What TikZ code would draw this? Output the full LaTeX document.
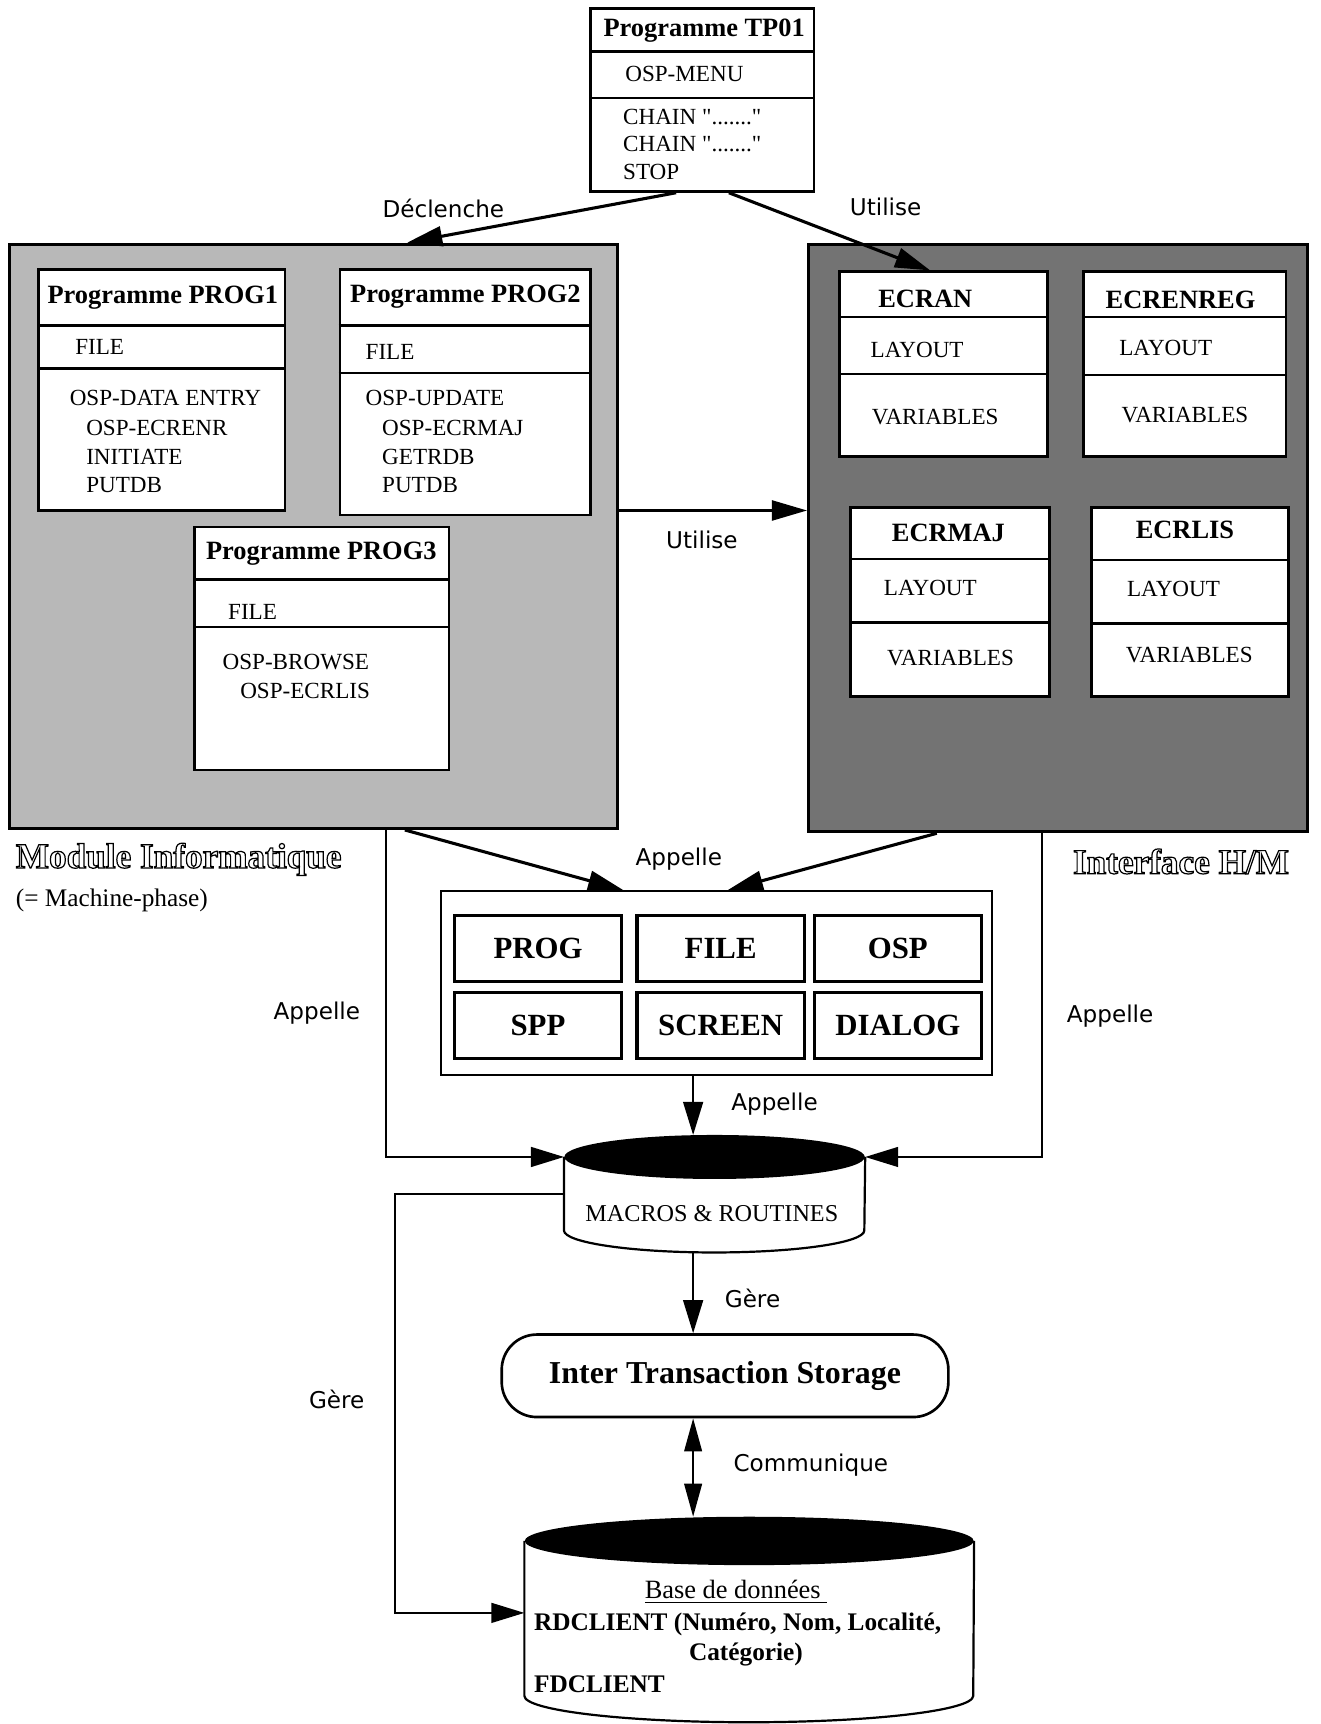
\documentclass[tikz,border=0pt]{standalone}
\usepackage{fontspec}
\usepackage{tikz}
\usetikzlibrary{arrows.meta,calc,fit}
\setmainfont{Liberation Serif}
\newfontfamily\lblfont{DejaVu Sans}
\newcommand{\Chain}{CHAIN \textquotedbl.......\textquotedbl}
\newcommand{\Outline}[1]{\special{pdf:literal direct 1 Tr 0.55 w}#1\special{pdf:literal direct 0 Tr}}

\begin{document}
\begin{tikzpicture}[x=0.5pt, y=-0.5pt,
  zone/.style={draw, line width=1.4pt, inner sep=0pt},
  box/.style={draw, fill=white, line width=1.2pt, inner sep=0pt},
  ttl/.style={font=\fontsize{12}{14}\selectfont\bfseries, inner sep=0pt},
  itm/.style={font=\fontsize{10.5}{13}\selectfont, inner sep=0pt, anchor=west},
  lbl/.style={font=\lblfont\fontsize{10.5}{12}\selectfont, inner sep=0pt},
  cell/.style={draw, line width=1.4pt, minimum width=76pt, minimum height=30pt, font=\fontsize{14}{16}\selectfont\bfseries},
  arr/.style={line width=1.4pt, -{Triangle[length=16pt,width=9pt]}},
  arrthin/.style={line width=0.9pt, -{Triangle[length=15pt,width=9pt]}},
  dbl/.style={line width=1pt, {Triangle[length=15pt,width=8pt]}-{Triangle[length=15pt,width=8pt]}}]

\useasboundingbox (0,0) rectangle (1200,1567);

\node[zone, fill=black!28, fit={(9,222) (561,753)}] (modinf) {};
\node[zone, fill=black!55, fit={(735,222) (1188,756)}] (ihm) {};

\foreach \n/\xa/\ya/\xb/\yb/\la/\lb in {tp01/537/8/740/174/47/89, prog1/35/245/259/464/296/335,
  prog2/309/245/537/468/296/339, prog3/177/479/408/700/527/570, ecran/763/247/952/415/288/340,
  ecrenreg/985/247/1169/415/288/341, ecrmaj/773/461/954/633/508/566, ecrlis/992/461/1171/633/509/567}
{
  \node[box, fit={(\xa,\ya) (\xb,\yb)}] (\n) {};
  \draw[line width=1.2pt] (\n.west |- 0,\la) -- (\n.east |- 0,\la);
  \draw[line width=1.2pt] (\n.west |- 0,\lb) -- (\n.east |- 0,\lb);
}

\foreach \n/\x/\y/\t in {tp01/640/28/Programme TP01, prog1/148/271/Programme PROG1,
  prog2/423/270/Programme PROG2, prog3/292/503/Programme PROG3, ecran/841/272/ECRAN,
  ecrenreg/1073/273/ECRENREG, ecrmaj/862/484/ECRMAJ, ecrlis/1077/482/ECRLIS}
  \node[ttl] (\n-t) at (\x,\y) {\t};

\foreach \x/\y/\t [count=\i] in {568/67/OSP-MENU, 566/106/\Chain, 566/131/\Chain, 566/156/STOP,
  68/315/FILE, 63/362/OSP-DATA ENTRY, 78/389/OSP-ECRENR, 78/415/INITIATE, 78/441/PUTDB,
  332/320/FILE, 332/362/OSP-UPDATE, 347/389/OSP-ECRMAJ, 347/415/GETRDB, 347/441/PUTDB,
  207/556/FILE, 202/602/OSP-BROWSE, 218/628/OSP-ECRLIS,
  791/318/LAYOUT, 792/379/VARIABLES, 1017/316/LAYOUT, 1019/377/VARIABLES,
  803/534/LAYOUT, 806/598/VARIABLES, 1024/535/LAYOUT, 1023/595/VARIABLES}
  \node[itm] (item\i) at (\x,\y) {\t};

\node[font=\fontsize{16}{18}\selectfont\bfseries, anchor=west, inner sep=0pt] (modname) at (14,781) {\Outline{Module Informatique}};
\node[font=\fontsize{11.5}{13}\selectfont, anchor=west, inner sep=0pt] (modsub) at (14,818) {(= Machine-phase)};
\node[font=\fontsize{16}{18}\selectfont\bfseries, anchor=east, inner sep=0pt] (ihmname) at (1172,783) {\Outline{Interface H/M}};

\node[draw, line width=1pt, fit={(401,810) (902,977)}, inner sep=0pt] (lib) {};
\foreach \t/\x/\y in {PROG/489/862, FILE/655/862, OSP/816/862, SPP/489/932, SCREEN/655/932, DIALOG/816/932}
  \node[cell] (\t) at (\x,\y) {\t};

\node[fit={(513,1052) (786,1118)}, inner sep=0pt] (macros) {};
\draw[line width=1pt, fill=white] (macros.north west) -- (macros.south west)
  arc[start angle=180, end angle=0, x radius=136.5, y radius=20] -- (macros.north east);
\fill (macros.north) ellipse [x radius=136.5, y radius=20];
\node[font=\fontsize{11}{13}\selectfont] (macrost) at (647,1103) {MACROS \& ROUTINES};

\node[draw, line width=1.2pt, rounded corners=16pt, minimum width=203pt, minimum height=37.5pt,
  font=\fontsize{14.5}{17}\selectfont\bfseries] (its) at (659,1250.5) {Inter Transaction Storage};

\node[fit={(477,1401) (885,1541)}, inner sep=0pt] (db) {};
\draw[line width=1pt, fill=white] (db.north west) -- (db.south west)
  arc[start angle=180, end angle=0, x radius=204, y radius=24] -- (db.north east);
\fill (db.north) ellipse [x radius=204, y radius=22];
\node[font=\fontsize{12}{14}\selectfont] (db1) at (669,1447) {\underline{Base de données\ }};
\node[font=\fontsize{11.5}{13}\selectfont\bfseries, anchor=west, inner sep=0pt] (db2) at (485,1476) {RDCLIENT (Numéro, Nom, Localité,};
\node[font=\fontsize{11.5}{13}\selectfont\bfseries] (db3) at (678,1504) {Catégorie)};
\node[font=\fontsize{11.5}{13}\selectfont\bfseries, anchor=west, inner sep=0pt] (db4) at (485,1531) {FDCLIENT};

\coordinate (axis) at (630,0);
\coordinate (gere) at (359,1466);

\draw[arr] ($(tp01.south)+(-24,0)$) -- ($(modinf.north)+(85,0)$);
\draw[arr] ($(tp01.south)+(24,0)$) -- ($(ecran.north)+(-12,0)$);
\draw[arr] (modinf.east |- 0,464) -- (ihm.west |- 0,464);
\draw[arr] ($(modinf.south)+(83,0)$) -- ($(lib.north)+(-85,0)$);
\draw[arr] ($(ihm.south)+(-110,0)$) -- ($(lib.north)+(10,0)$);
\draw[arrthin] ($(modinf.south)+(66,0)$) |- (macros.north west);
\draw[arrthin] ($(ihm.south)+(-14,0)$) |- (macros.north east);
\draw[arrthin] (lib.south -| axis) -- ($(macros.north -| axis)+(0,-20)$);
\draw[arrthin] ($(macros.south -| axis)+(0,20)$) -- (its.north -| axis);
\draw[dbl] (its.south -| axis) -- ($(db.north -| axis)+(0,-22)$);
\draw[arrthin] (macros.west) -| (gere) -- (db.west |- gere);

\foreach \x/\y/\t [count=\i] in {403/189/Déclenche, 805/188/Utilise, 638/491/Utilise, 617/781/Appelle,
  288/921/Appelle, 1009/924/Appelle, 704/1004/Appelle, 684/1180/Gère, 306/1272/Gère, 737/1332/Communique}
  \node[lbl] (lbl\i) at (\x,\y) {\t};

\end{tikzpicture}
\end{document}
